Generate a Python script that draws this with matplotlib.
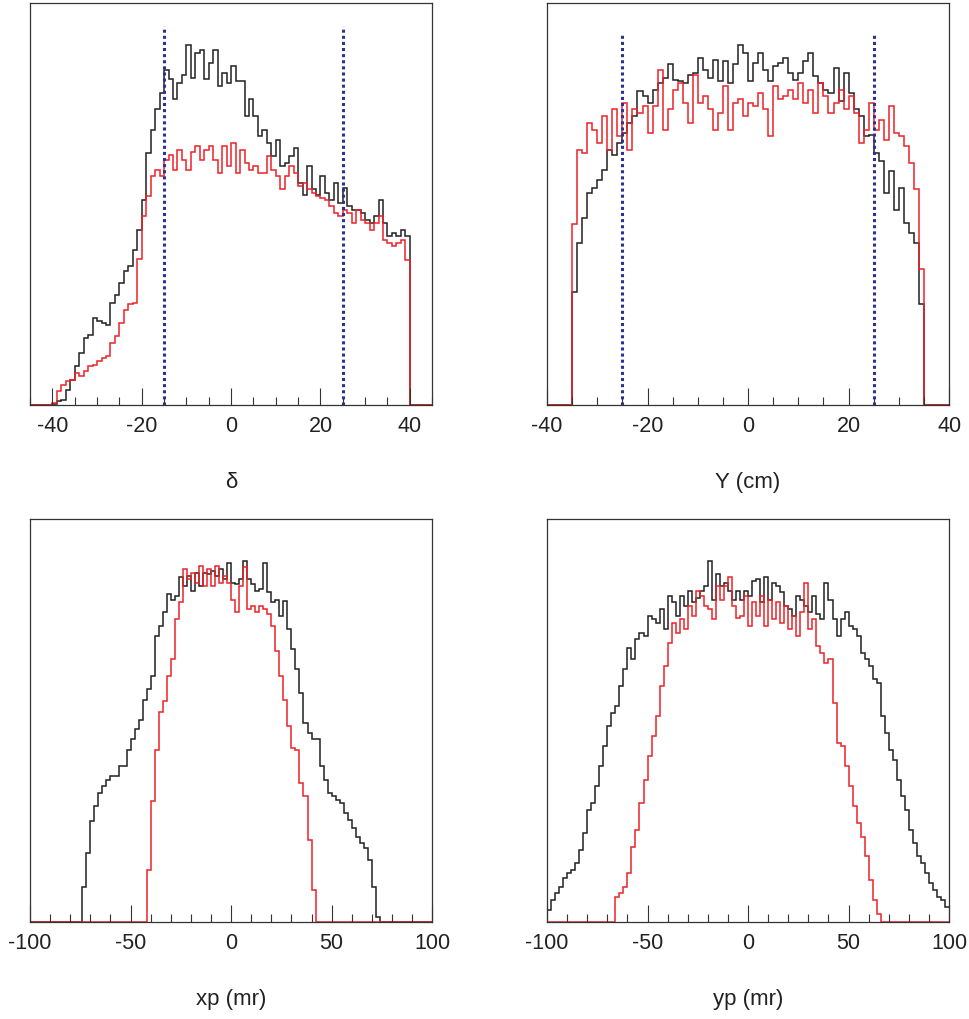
"""
Четыре гистограммы (delta, Y, xp, yp): чёрная - все события, красная - после отбора.
Высоты бинов сняты с картинки в процентах от высоты рамки.
"""
import matplotlib
matplotlib.use("Agg")  # без GUI - рисуем прямо в файл
import matplotlib.pyplot as plt
import numpy as np
from matplotlib.ticker import MultipleLocator

plt.rcParams["font.family"] = ["Liberation Sans", "DejaVu Sans"]
plt.rcParams["axes.unicode_minus"] = False  # в оригинале обычный дефис

# --- delta, бины по 1 от -40 до 40 ---
delta_black = [0.3, 1.0, 1.3, 3.8, 6.3, 9.6, 13.0, 16.7, 17.5, 21.6,
               20.8, 20.4, 20.0, 25.4, 27.4, 30.3, 33.2, 34.5, 38.6, 43.6,
               51.0, 62.7, 68.5, 73.5, 77.6, 83.4, 81.0, 76.0, 80.0, 82.2,
               89.6, 81.3, 87.6, 88.4, 81.0, 85.0, 88.4, 79.3, 82.6, 80.0,
               84.2, 80.5, 80.5, 71.8, 76.0, 71.8, 66.8, 68.5, 65.2, 61.9,
               66.0, 59.4, 60.2, 61.9, 63.9, 55.2, 52.3, 59.4, 53.6, 52.3,
               56.9, 52.7, 51.0, 55.2, 50.2, 54.0, 49.4, 48.6, 48.6, 47.8,
               46.1, 45.3, 47.0, 51.0, 45.3, 42.0, 42.8, 42.0, 43.6, 42.0]
delta_red = [0.5, 3.4, 5.0, 5.9, 6.3, 8.0, 7.1, 8.4, 9.6, 10.0,
             10.9, 11.7, 12.1, 15.4, 17.1, 20.4, 23.7, 25.0, 25.4, 36.2,
             47.0, 52.0, 57.0, 58.5, 57.0, 61.0, 62.3, 58.5, 63.5, 61.0,
             58.5, 63.0, 64.3, 61.0, 63.5, 64.3, 61.0, 57.7, 64.3, 59.4,
             65.2, 57.7, 63.5, 60.2, 58.5, 59.4, 57.7, 57.7, 61.9, 58.5,
             56.9, 53.6, 56.9, 59.4, 57.7, 54.4, 55.2, 53.6, 52.7, 52.0,
             51.5, 51.0, 49.4, 47.8, 47.0, 48.6, 47.8, 45.3, 48.6, 46.1,
             45.3, 43.6, 45.3, 47.0, 41.1, 40.3, 39.5, 40.3, 41.1, 36.0]
delta_cuts = [-15, 25]

# --- Y (cm), бины по 1 от -35 до 35 ---
ycm_black = [28.0, 40.3, 46.5, 52.7, 54.0, 56.0, 58.5, 63.5, 62.3, 65.2,
             67.7, 70.1, 71.8, 78.0, 76.8, 75.1, 78.4, 80.0, 81.3, 84.7,
             80.9, 80.5, 80.0, 82.2, 82.6, 86.3, 83.4, 81.3, 85.9, 80.5,
             85.5, 80.0, 84.7, 89.6, 87.6, 80.5, 85.1, 87.6, 83.4, 80.5,
             84.2, 85.1, 86.3, 82.6, 80.9, 82.6, 85.5, 87.6, 81.8, 80.0,
             78.4, 77.6, 83.8, 75.5, 82.6, 77.6, 73.5, 71.8, 66.8, 67.2,
             62.7, 60.6, 52.7, 58.1, 48.6, 54.0, 45.3, 42.8, 40.3, 25.0]
ycm_red = [45.0, 63.5, 62.7, 70.1, 68.5, 65.2, 71.8, 63.5, 73.5, 66.8,
           75.1, 63.5, 73.5, 72.6, 74.3, 67.7, 74.3, 83.4, 68.5, 73.5,
           78.4, 80.0, 75.1, 70.1, 82.2, 75.1, 76.8, 73.5, 68.5, 72.6,
           79.3, 68.5, 75.1, 76.0, 71.8, 75.1, 74.3, 77.6, 73.5, 66.8,
           79.3, 76.0, 76.8, 78.4, 76.0, 80.0, 75.1, 78.4, 72.6, 80.0,
           76.8, 72.6, 75.1, 78.4, 73.5, 76.8, 72.6, 65.2, 68.5, 75.1,
           68.5, 71.0, 66.0, 74.3, 67.7, 66.8, 64.3, 60.2, 53.6, 33.7]
ycm_cuts = [-25, 25]

# --- xp (mr), бины по 2 от -100 до 100 ---
xp_black = [0, 0, 0, 0, 0, 0, 0, 0, 0, 0, 0, 0, 0,
            8.8, 17.0, 25.0, 28.7, 32.0, 33.7, 35.3, 36.2, 36.2, 38.6,
            38.6, 42.8, 45.3, 47.8, 50.2, 55.2, 57.7, 61.0, 71.0, 73.5,
            76.8, 81.3, 80.0, 81.0, 85.5, 83.4, 85.9, 82.2, 86.7, 83.4,
            86.7, 86.3, 87.1, 85.9, 87.6, 85.1, 89.2, 84.2, 83.8, 85.1,
            89.6, 85.1, 83.8, 82.2, 82.6, 89.2, 81.8, 79.3, 80.0, 76.0,
            79.7, 72.6, 67.7, 62.7, 56.9, 49.4, 46.9, 45.3, 45.3, 38.6,
            35.3, 32.0, 31.2, 30.3, 29.5, 27.0, 25.4, 23.3, 21.2, 19.6,
            18.3, 15.4, 8.8, 1.3,
            0, 0, 0, 0, 0, 0, 0, 0, 0, 0, 0, 0, 0]
xp_red = [0, 0, 0, 0, 0, 0, 0, 0, 0, 0, 0, 0, 0, 0, 0,
          0, 0, 0, 0, 0, 0, 0, 0, 0, 0, 0, 0, 0, 0,
          13.0, 30.0, 42.8, 52.0, 54.8, 61.0, 65.2, 75.1, 79.3, 87.6,
          85.1, 86.7, 84.2, 88.4, 83.4, 87.6, 83.4, 88.4, 84.2, 85.9,
          84.2, 80.0, 76.8, 83.4, 88.0, 77.6, 78.4, 76.8, 78.4, 77.6,
          76.4, 73.5, 67.2, 61.0, 55.2, 48.6, 43.2, 42.8, 34.5, 31.2,
          20.4, 8.0,
          0, 0, 0, 0, 0, 0, 0, 0, 0, 0, 0, 0, 0, 0, 0,
          0, 0, 0, 0, 0, 0, 0, 0, 0, 0, 0, 0, 0, 0]

# --- yp (mr), бины по 2 от -100 до 100 ---
yp_black = [3.0, 5.5, 7.1, 8.8, 10.9, 12.1, 12.9, 14.6, 17.9, 22.1,
            27.9, 29.5, 33.7, 38.6, 43.6, 48.6, 51.9, 53.6, 58.5, 62.7,
            68.1, 65.2, 70.1, 71.8, 71.0, 76.0, 75.1, 74.3, 77.6, 72.6,
            80.9, 79.3, 76.0, 80.9, 78.4, 82.2, 79.3, 80.5, 82.2, 83.4,
            89.6, 80.0, 86.3, 83.4, 84.2, 82.2, 80.0, 82.2, 80.0, 82.2,
            80.9, 84.7, 85.1, 79.3, 85.5, 80.0, 84.2, 83.4, 81.8, 78.4,
            77.6, 76.0, 80.9, 80.0, 78.4, 76.8, 80.9, 76.4, 75.1, 84.2,
            80.0, 75.1, 71.0, 75.1, 76.8, 73.5, 72.6, 71.0, 66.8, 65.2,
            63.5, 60.2, 59.4, 51.1, 46.9, 42.8, 40.3, 35.3, 31.2, 27.9,
            22.9, 19.6, 16.3, 14.6, 12.1, 9.6, 8.0, 6.3, 5.5, 3.8]
yp_red = [0, 0, 0, 0, 0, 0, 0, 0, 0, 0, 0, 0, 0, 0, 0, 0, 0,
          6.3, 7.1, 8.8, 12.1, 18.7, 22.9, 29.5, 35.3, 41.1, 46.1,
          51.1, 58.5, 63.5, 69.3, 74.3, 71.8, 75.1, 72.6, 78.4, 76.0,
          82.2, 80.9, 78.4, 77.6, 75.1, 83.4, 80.0, 83.4, 85.5, 78.4,
          75.5, 76.0, 80.9, 73.5, 79.3, 76.0, 80.9, 73.5, 80.0, 75.1,
          79.3, 74.3, 78.4, 72.6, 76.0, 71.0, 76.8, 84.2, 72.6, 75.1,
          68.5, 66.8, 64.3, 65.2, 54.4, 44.4, 43.6, 38.6, 33.7, 28.7,
          24.5, 21.2, 16.3, 10.4, 5.5, 2.0,
          0, 0, 0, 0, 0, 0, 0, 0, 0, 0, 0, 0, 0, 0, 0, 0, 0]

BLACK = "#231f20"
RED = "#ec2227"
BLUE = "#2e3192"
FRAME = "#333333"

fig = plt.figure(figsize=(9.69, 10.19), dpi=100)
ax_pos = [
    [0.031, 0.6026, 0.415, 0.3945],
    [0.5645, 0.6026, 0.415, 0.3945],
    [0.031, 0.0952, 0.415, 0.3955],
    [0.5645, 0.0952, 0.415, 0.3955],
]

panels = [
    # (black, red, edges, xlim, major, minor, label, cuts, cut_top)
    (delta_black, delta_red, np.concatenate([[-45], np.arange(-40, 41, 1), [45]]),
     (-45, 45), 20, 5, "δ", delta_cuts, 94.2),
    (ycm_black, ycm_red, np.concatenate([[-40], np.arange(-35, 36, 1), [40]]),
     (-40, 40), 20, 5, "Y (cm)", ycm_cuts, 92.5),
    (xp_black, xp_red, np.arange(-100, 101, 2),
     (-100, 100), 50, 10, "xp (mr)", None, None),
    (yp_black, yp_red, np.arange(-100, 101, 2),
     (-100, 100), 50, 10, "yp (mr)", None, None),
]

for pos, (blk, red, edges, xlim, major, minor, label, cuts, cut_top) in zip(ax_pos, panels):
    ax = fig.add_axes(pos)
    if len(blk) == len(edges) - 3:
        # нули на краях, чтобы линия шла по дну до самой рамки
        blk = [0] + blk + [0]
        red = [0] + red + [0]
    ax.stairs(blk, edges, color=BLACK, linewidth=1.1, baseline=None)
    ax.stairs(red, edges, color=RED, linewidth=1.1, baseline=None)
    if cuts is not None:
        ax.vlines(cuts, 0, cut_top, colors=BLUE, linewidth=2.2,
                  linestyles=(0, (1, 1)), zorder=3)

    ax.set_xlim(*xlim)
    ax.set_ylim(0, 100)
    ax.xaxis.set_major_locator(MultipleLocator(major))
    ax.xaxis.set_minor_locator(MultipleLocator(minor))
    ax.set_yticks([])
    ax.tick_params(axis="x", which="both", direction="in", top=False,
                   colors=FRAME, labelcolor="#222222", labelsize=15.5, pad=8)
    ax.tick_params(axis="x", which="major", length=12, width=0.8)
    ax.tick_params(axis="x", which="minor", length=6, width=0.8)
    for spine in ax.spines.values():
        spine.set_color(FRAME)
        spine.set_linewidth(0.9)

    ax.set_xlabel(label, fontsize=16, color="#222222")
    ax.xaxis.set_label_coords(0.5, -0.193)
    ax.xaxis.label.set_verticalalignment("center")

fig.savefig("out.png", dpi=100, facecolor="white")
plt.close(fig)
